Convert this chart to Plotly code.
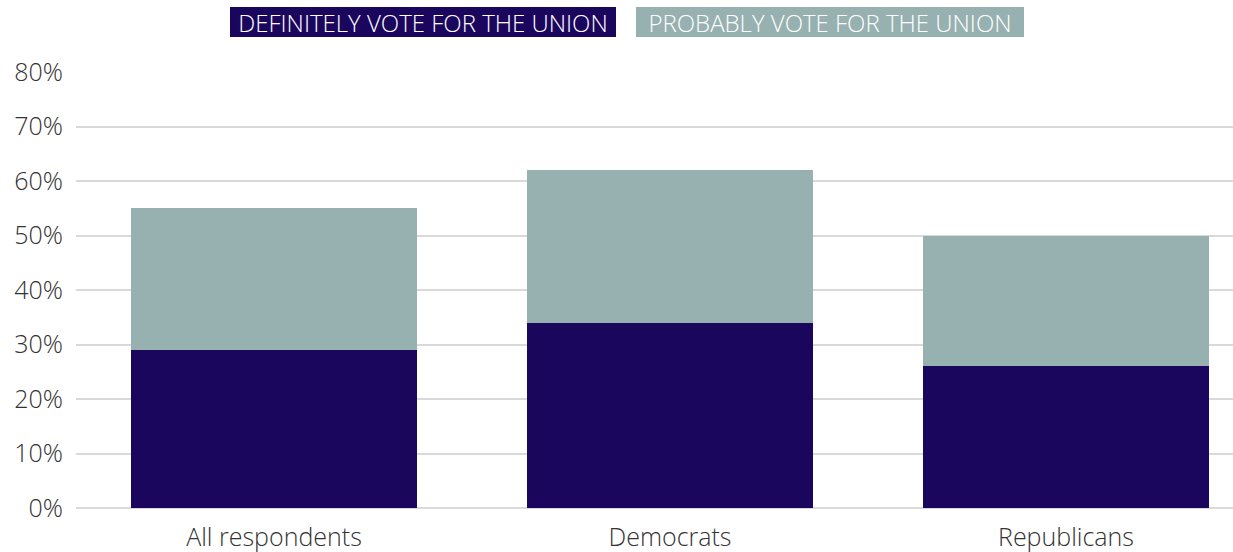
import plotly.graph_objects as go

categories = ["All respondents", "Democrats", "Republicans"]
definitely = [29, 34, 26]
probably = [26, 28, 24]
series_names = ["DEFINITELY VOTE FOR THE UNION", "PROBABLY VOTE FOR THE UNION"]
colors = ["#1b065e", "#97b1b0"]
y_ticks = [0, 10, 20, 30, 40, 50, 60, 70, 80]
y_tick_text = [f"{v}%" for v in y_ticks]

FONT = "'Open Sans', Lato, sans-serif"
TXT = "#333333"

fig = go.Figure()
for name, vals, col in zip(series_names, [definitely, probably], colors):
    fig.add_trace(go.Bar(x=categories, y=vals, name=name, marker=dict(color=col, line=dict(width=0)),
                         width=0.722, showlegend=False))

W, H = 1233, 552
L, R, T, B = 76, 0, 72, 44
pw = W - L - R
ph = H - T - B

def px_to_paper(xp, yp):
    return (xp - L) / pw, (H - B - yp) / ph

for name, col, cx, bw in zip(series_names, colors, [423, 830], [380, 382]):
    px, py = px_to_paper(cx, 22)
    fig.add_annotation(text=name, x=px, y=py, xref="paper", yref="paper", xanchor="center", yanchor="middle",
                       showarrow=False, bgcolor=col, font=dict(color="white", size=24, family=FONT, weight=300),
                       borderpad=3, borderwidth=0, width=bw, height=24, align="center", valign="middle")

fig.update_layout(
    barmode="stack",
    width=W, height=H,
    margin=dict(l=L, r=R, t=T, b=B, pad=0),
    plot_bgcolor="white", paper_bgcolor="white",
    font=dict(family=FONT, size=25, color=TXT, weight=300),
    xaxis=dict(range=[-0.5, -0.5 + pw / 396], showgrid=False, showline=False, ticks="",
               ticklabelstandoff=12,
               tickfont=dict(size=25, color=TXT, family=FONT, weight=300)),
    yaxis=dict(range=[0, 80], tickvals=y_ticks, ticktext=y_tick_text, showgrid=True, gridcolor="#d9d9d9",
               gridwidth=1.5, zeroline=True, zerolinecolor="#d9d9d9", zerolinewidth=1.5,
               showline=False, ticks="", ticklabelstandoff=12,
               tickfont=dict(size=25, color=TXT, family=FONT, weight=300)),
)

fig.write_html("out.html", config={"displayModeBar": False},
               post_script="document.body.style.margin='0';document.body.style.overflow='hidden';")
